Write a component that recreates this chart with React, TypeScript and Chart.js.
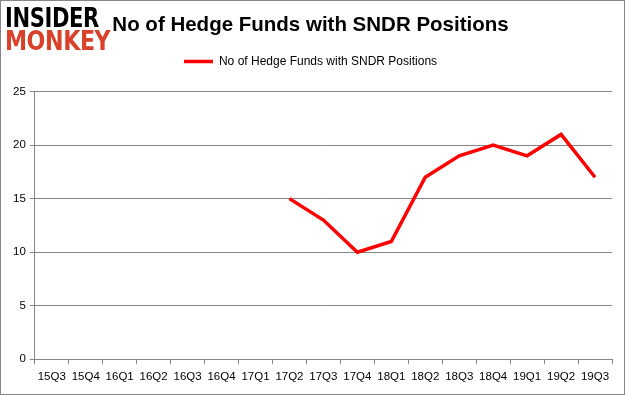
import React, { useEffect, useRef } from "react";
import { Chart, registerables } from "chart.js";

Chart.register(...registerables);

const categories = ["15Q3", "15Q4", "16Q1", "16Q2", "16Q3", "16Q4", "17Q1", "17Q2", "17Q3", "17Q4", "18Q1", "18Q2", "18Q3", "18Q4", "19Q1", "19Q2", "19Q3"];
const hedgeFunds: (number | null)[] = [null, null, null, null, null, null, null, 15, 13, 10, 11, 17, 19, 20, 19, 21, 17];
const seriesName = "No of Hedge Funds with SNDR Positions";
const chartTitle = "No of Hedge Funds with SNDR Positions";
const yTicks = [0, 5, 10, 15, 20, 25];

const legendSpacer = {
  id: "legendSpacer",
  beforeInit(chart: any) {
    const orig = chart.legend.fit;
    chart.legend.fit = function () {
      orig.call(this);
      this.height += 14;
    };
  },
};

export default function App() {
  const ref = useRef<HTMLCanvasElement | null>(null);
  useEffect(() => {
    if (!ref.current) return;
    const chart = new Chart(ref.current, {
      type: "line",
      data: {
        labels: categories,
        datasets: [
          {
            label: seriesName,
            data: hedgeFunds,
            borderColor: "#ff0000",
            backgroundColor: "#ff0000",
            borderWidth: 3.5,
            pointRadius: 0,
            pointHoverRadius: 0,
            tension: 0,
            spanGaps: false,
          },
        ],
      },
      plugins: [legendSpacer],
      options: {
        animation: false,
        responsive: false,
        layout: { padding: { left: 8, right: 12, top: 0, bottom: 4 } },
        plugins: {
          title: {
            display: true,
            text: chartTitle,
            color: "#000",
            font: { family: "'Liberation Sans', Arial, sans-serif", size: 20.5, weight: "bold" },
            padding: { top: 12, bottom: 12 },
          },
          legend: {
            display: true,
            labels: {
              usePointStyle: true,
              pointStyle: "line",
              pointStyleWidth: 29,
              boxWidth: 29,
              boxHeight: 3,
              color: "#000",
              font: { family: "'Liberation Sans', Arial, sans-serif", size: 12 },
              padding: 6,
            },
            padding: 10,
          } as any,
          tooltip: { enabled: false },
        },
        scales: {
          x: {
            offset: true,
            grid: { display: true, drawOnChartArea: false, drawTicks: true, tickLength: 5, offset: true, color: "#868686" },
            border: { display: true, color: "#868686" },
            ticks: { color: "#000", font: { family: "'Liberation Sans', Arial, sans-serif", size: 11.5 }, padding: 6, maxRotation: 0, autoSkip: false },
          },
          y: {
            min: 0,
            max: 25,
            afterBuildTicks: (axis: any) => {
              axis.ticks = yTicks.map((v) => ({ value: v }));
            },
            grid: { color: "#868686", tickLength: 5, drawTicks: true },
            border: { display: true, color: "#868686" },
            ticks: { color: "#000", font: { family: "'Liberation Sans', Arial, sans-serif", size: 11.5 }, padding: 4 },
          },
        },
      } as any,
    });
    return () => chart.destroy();
  }, []);

  return (
    <div style={{ position: "fixed", left: 0, top: 0, width: 625, height: 395, background: "#fff", boxSizing: "border-box", border: "1px solid #868686", overflow: "hidden" }}>
      <canvas ref={ref} width={623} height={393} style={{ position: "absolute", left: 0, top: 0 }} />
      <div style={{ position: "absolute", left: 4, top: 5, fontFamily: "'DejaVu Sans', sans-serif", fontWeight: 900, lineHeight: "23px", letterSpacing: "-0.5px" }}>
        <div style={{ color: "#000", fontSize: 27, whiteSpace: "nowrap", transform: "scaleX(0.78)", transformOrigin: "left" }}>INSIDER</div>
        <div style={{ color: "#d9412b", fontSize: 27, whiteSpace: "nowrap", transform: "scaleX(0.82)", transformOrigin: "left" }}>MONKEY</div>
      </div>
    </div>
  );
}
